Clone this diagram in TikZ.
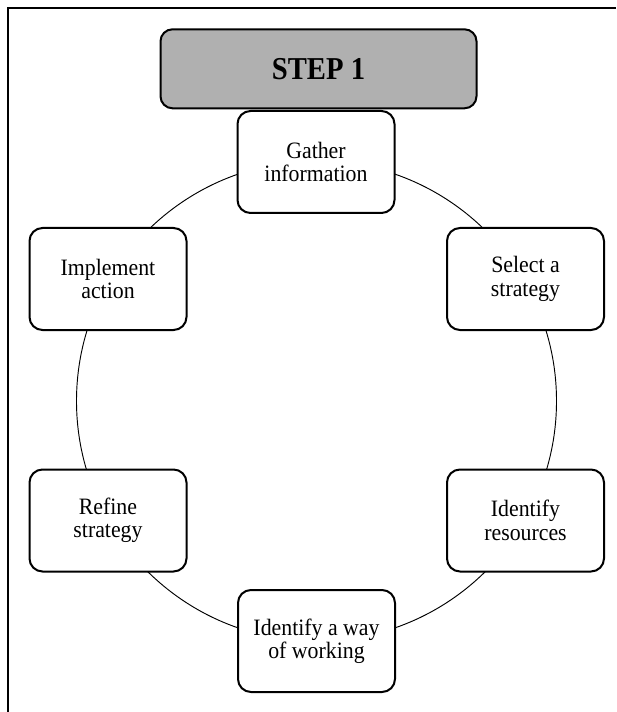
\documentclass[tikz,border=0pt]{standalone}
\usepackage{fontspec}
\setmainfont{Liberation Serif}
\newfontfamily\boxfont[FakeStretch=0.93]{Liberation Serif}
\newfontfamily\headfont[FakeStretch=0.9]{Liberation Serif}
\definecolor{stepgray}{RGB}{176,176,176}
\begin{document}
\begin{tikzpicture}[x=0.75pt,y=-0.75pt,
  stagebox/.style={draw=black, line width=1.5pt, fill=white, rounded corners=9.75pt,
    minimum width=117.75pt, minimum height=76.5pt, align=center, inner sep=0pt,
    font=\boxfont\fontsize{17.6pt}{17.5pt}\selectfont},
  headbox/.style={draw=black, line width=1.5pt, fill=stepgray, rounded corners=9pt,
    minimum width=237pt, minimum height=59.25pt, align=center, inner sep=0pt,
    font=\headfont\fontsize{23.9pt}{26pt}\selectfont\bfseries},
  ring/.style={draw=black, line width=0.7pt},
  frameline/.style={draw=black, line width=1.7pt}
]
\useasboundingbox (0,0) rectangle (616,712);
% frame (top and left edges only)
\coordinate (fA) at (7.7,712);
\coordinate (fB) at (7.7,7.7);
\coordinate (fC) at (616,7.7);
\draw[frameline] (fA) -- (fB) -- (fC);
% ring
\coordinate (c) at (316.5,401);
\draw[ring] (c) circle[radius=240];
% nodes
\node[headbox] (step) at (318.5,68.8) {STEP 1};
\node[stagebox] (gather) at (316,162) {Gather\\information};
\node[stagebox] (select) at (525.5,279) {Select a\\strategy};
\node[stagebox] (resources) at (525.5,520.5) {Identify\\resources};
\node[stagebox] (way) at (316.5,641) {Identify a way\\of working};
\node[stagebox] (refine) at (108,520.5) {Refine\\strategy};
\node[stagebox] (implement) at (108,279) {Implement\\action};
\end{tikzpicture}
\end{document}
